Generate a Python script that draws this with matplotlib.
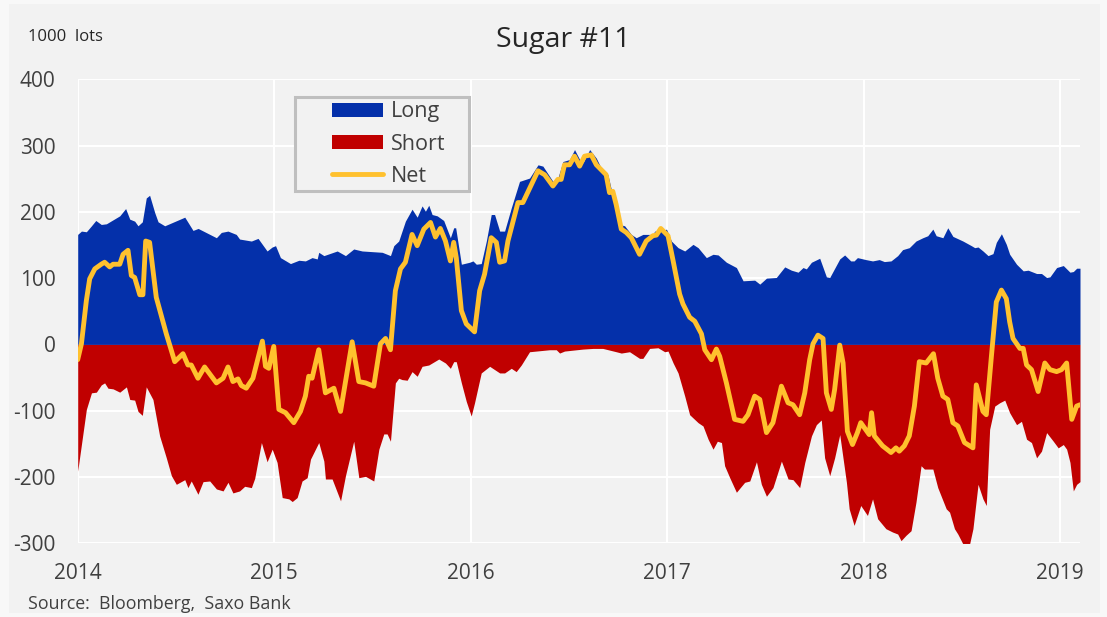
import matplotlib
matplotlib.use("Agg")
import matplotlib.pyplot as plt
from matplotlib.patches import Rectangle, Patch
from matplotlib.lines import Line2D

# ---------------- data (1000 lots), x in decimal years ----------------
long_x = [2014.000, 2014.019, 2014.044, 2014.070, 2014.092, 2014.120, 2014.146, 2014.214, 2014.244, 2014.265,
          2014.290, 2014.307, 2014.329, 2014.349, 2014.366, 2014.392, 2014.409, 2014.443, 2014.545, 2014.587,
          2014.613, 2014.706, 2014.731, 2014.765, 2014.807, 2014.824, 2014.884, 2014.918,
          2014.964, 2014.990, 2015.007, 2015.032, 2015.083, 2015.126, 2015.159, 2015.193, 2015.219, 2015.227,
          2015.253, 2015.321, 2015.363, 2015.405, 2015.448, 2015.499, 2015.550, 2015.592, 2015.609, 2015.634,
          2015.668, 2015.702, 2015.728, 2015.753, 2015.770, 2015.787, 2015.804, 2015.830, 2015.863, 2015.897,
          2015.914,
          2015.924, 2015.953, 2015.995, 2016.012, 2016.029, 2016.054, 2016.080, 2016.105, 2016.122, 2016.148,
          2016.173, 2016.207, 2016.249, 2016.300, 2016.343, 2016.368, 2016.419, 2016.444, 2016.470, 2016.504,
          2016.529, 2016.555, 2016.572, 2016.606, 2016.640, 2016.673, 2016.699, 2016.716, 2016.741, 2016.758,
          2016.784, 2016.818, 2016.843, 2016.877, 2016.928,
          2016.937, 2016.971, 2016.997, 2017.022, 2017.056, 2017.090, 2017.132, 2017.158, 2017.200, 2017.234,
          2017.260, 2017.302, 2017.353, 2017.387, 2017.446, 2017.472, 2017.506, 2017.556, 2017.599, 2017.633,
          2017.667, 2017.692, 2017.709, 2017.735, 2017.777, 2017.811, 2017.828, 2017.879, 2017.904,
          2017.935, 2017.952, 2017.969, 2018.012, 2018.046, 2018.080, 2018.106, 2018.140, 2018.174, 2018.199,
          2018.233, 2018.267, 2018.302, 2018.327, 2018.353, 2018.370, 2018.404, 2018.429, 2018.455, 2018.506,
          2018.549, 2018.566, 2018.583, 2018.608, 2018.634, 2018.659, 2018.676, 2018.702, 2018.727, 2018.744,
          2018.779, 2018.813, 2018.838, 2018.881, 2018.906, 2018.932, 2018.949, 2018.983, 2019.017, 2019.051,
          2019.068, 2019.085, 2019.102]
long_v = [166, 171, 170, 179, 187, 181, 182, 194, 205, 189,
          186, 179, 185, 221, 225, 199, 185, 179, 192, 172,
          175, 161, 169, 171, 166, 159, 156, 160,
          141, 147, 149, 131, 122, 127, 126, 131, 129, 139,
          134, 141, 134, 144, 141, 140, 139, 134, 149, 156,
          186, 204, 192, 209, 201, 210, 196, 194, 187, 161,
          176,
          176, 121, 124, 126, 121, 122, 156, 196, 196, 171,
          171, 206, 246, 251, 271, 269, 246, 251, 276, 279,
          294, 279, 274, 294, 281, 261, 256, 234, 221, 181,
          179, 166, 161, 166, 166,
          171, 171, 174, 156, 146, 141, 151, 146, 131, 136,
          135, 124, 116, 96, 97, 91, 100, 101, 117, 112,
          109, 116, 114, 124, 130, 102, 101, 129, 135,
          126, 126, 131, 128, 126, 128, 125, 126, 134, 143,
          146, 156, 161, 164, 174, 164, 161, 176, 163, 156,
          149, 146, 147, 141, 134, 137, 154, 167, 151, 136,
          121, 111, 112, 107, 107, 101, 102, 116, 119, 109,
          110, 115, 115]

short_x = [2014.000, 2014.044, 2014.070, 2014.095, 2014.120, 2014.137, 2014.154, 2014.180, 2014.214, 2014.248,
           2014.265, 2014.290, 2014.307, 2014.329, 2014.349, 2014.383, 2014.417, 2014.451, 2014.477, 2014.502,
           2014.545, 2014.561, 2014.578, 2014.612, 2014.638, 2014.672, 2014.706, 2014.740, 2014.765, 2014.790,
           2014.824, 2014.850, 2014.884, 2014.901, 2014.935,
           2014.964, 2014.990, 2015.015, 2015.041, 2015.075, 2015.092, 2015.117, 2015.142, 2015.168, 2015.185,
           2015.227, 2015.253, 2015.261, 2015.295, 2015.338, 2015.363, 2015.405, 2015.431, 2015.465, 2015.507,
           2015.533, 2015.558, 2015.575, 2015.592, 2015.617, 2015.634, 2015.651, 2015.677, 2015.702, 2015.728,
           2015.753, 2015.787, 2015.838, 2015.872, 2015.897, 2015.914,
           2015.927, 2015.953, 2015.978, 2016.003, 2016.020, 2016.054, 2016.097, 2016.148, 2016.173, 2016.207,
           2016.232, 2016.258, 2016.300, 2016.334, 2016.402, 2016.436, 2016.453, 2016.478, 2016.572, 2016.623,
           2016.673, 2016.741, 2016.767, 2016.809, 2016.860, 2016.877, 2016.911,
           2016.954, 2016.988, 2017.005, 2017.031, 2017.056, 2017.090, 2017.115, 2017.158, 2017.183, 2017.209,
           2017.234, 2017.256, 2017.277, 2017.293, 2017.319, 2017.353, 2017.395, 2017.421, 2017.455, 2017.480,
           2017.506, 2017.539, 2017.582, 2017.616, 2017.641, 2017.675, 2017.701, 2017.735, 2017.760, 2017.785,
           2017.802, 2017.828, 2017.853, 2017.879, 2017.913,
           2017.927, 2017.952, 2017.986, 2018.020, 2018.046, 2018.072, 2018.114, 2018.148, 2018.174, 2018.191,
           2018.216, 2018.242, 2018.267, 2018.293, 2018.310, 2018.353, 2018.378, 2018.421, 2018.438, 2018.463,
           2018.480, 2018.506, 2018.540, 2018.557, 2018.583, 2018.608, 2018.625, 2018.642, 2018.668, 2018.693,
           2018.719, 2018.744, 2018.779, 2018.804, 2018.830, 2018.855, 2018.881, 2018.906, 2018.932, 2018.966,
           2018.991, 2019.017, 2019.034, 2019.051, 2019.068, 2019.085, 2019.102]
short_v = [-191, -98, -73, -72, -61, -58, -66, -67, -72, -64,
           -83, -84, -101, -107, -64, -83, -138, -171, -198, -211,
           -204, -216, -206, -226, -207, -206, -218, -221, -208, -224,
           -221, -214, -216, -202, -148,
           -177, -158, -178, -231, -233, -237, -231, -206, -201, -173,
           -148, -176, -203, -203, -236, -198, -146, -201, -199, -206,
           -158, -135, -135, -146, -58, -51, -53, -54, -41, -48,
           -33, -31, -22, -28, -36, -26,
           -26, -58, -86, -108, -88, -43, -33, -43, -43, -36,
           -41, -31, -11, -10, -8, -8, -13, -10, -7, -6,
           -6, -11, -13, -11, -21, -21, -6,
           -5, -11, -10, -28, -43, -78, -106, -118, -123, -143,
           -158, -146, -148, -183, -201, -223, -208, -206, -177, -211,
           -229, -216, -176, -203, -204, -216, -178, -138, -121, -114,
           -171, -198, -171, -136, -208,
           -248, -273, -243, -258, -233, -263, -278, -283, -286, -296,
           -288, -281, -238, -183, -188, -188, -216, -248, -253, -278,
           -286, -301, -301, -278, -211, -233, -243, -128, -93, -88,
           -84, -103, -121, -116, -143, -148, -171, -161, -133, -146,
           -156, -151, -158, -178, -221, -211, -207]

net_x = [2014.000, 2014.019, 2014.044, 2014.061, 2014.087, 2014.120, 2014.137, 2014.163, 2014.180, 2014.214,
         2014.231, 2014.256, 2014.273, 2014.290, 2014.316, 2014.332, 2014.346, 2014.366, 2014.400, 2014.451,
         2014.494, 2014.536, 2014.561, 2014.578, 2014.612, 2014.646, 2014.706, 2014.740, 2014.765, 2014.790,
         2014.816, 2014.833, 2014.858, 2014.892, 2014.940,
         2014.956, 2014.973, 2014.998, 2015.024, 2015.058, 2015.100, 2015.134, 2015.159, 2015.176, 2015.193,
         2015.227, 2015.261, 2015.304, 2015.338, 2015.397, 2015.431, 2015.465, 2015.507, 2015.541, 2015.567,
         2015.592, 2015.617, 2015.643, 2015.668, 2015.702, 2015.728, 2015.762, 2015.796, 2015.821, 2015.846,
         2015.872, 2015.897, 2015.914,
         2015.927, 2015.953, 2015.978, 2016.020, 2016.046, 2016.071, 2016.105, 2016.131, 2016.148, 2016.173,
         2016.190, 2016.241, 2016.266, 2016.309, 2016.343, 2016.377, 2016.419, 2016.444, 2016.461, 2016.478,
         2016.504, 2016.529, 2016.555, 2016.580, 2016.614, 2016.640, 2016.690, 2016.707, 2016.724, 2016.741,
         2016.767, 2016.792, 2016.818, 2016.860, 2016.894, 2016.928,
         2016.946, 2016.968, 2017.005, 2017.031, 2017.064, 2017.081, 2017.115, 2017.141, 2017.175, 2017.192,
         2017.226, 2017.251, 2017.268, 2017.302, 2017.344, 2017.387, 2017.412, 2017.446, 2017.472, 2017.506,
         2017.539, 2017.582, 2017.616, 2017.641, 2017.675, 2017.701, 2017.726, 2017.743, 2017.768, 2017.794,
         2017.811, 2017.836, 2017.853, 2017.879, 2017.896,
         2017.918, 2017.944, 2017.969, 2017.986, 2018.029, 2018.041, 2018.055, 2018.097, 2018.140, 2018.165,
         2018.182, 2018.208, 2018.233, 2018.259, 2018.284, 2018.319, 2018.356, 2018.378, 2018.404, 2018.429,
         2018.455, 2018.480, 2018.514, 2018.557, 2018.574, 2018.608, 2018.625, 2018.651, 2018.676, 2018.702,
         2018.727, 2018.744, 2018.761, 2018.796, 2018.813, 2018.830, 2018.855, 2018.889, 2018.923, 2018.949,
         2018.983, 2019.008, 2019.034, 2019.060, 2019.085, 2019.102]
net_v = [-23, 1, 66, 99, 114, 121, 124, 117, 121, 121,
         136, 142, 104, 101, 75, 75, 156, 154, 71, 16,
         -26, -14, -31, -31, -51, -34, -58, -51, -34, -56,
         -52, -62, -66, -51, 5,
         -33, -36, -3, -98, -103, -118, -101, -78, -48, -51,
         -8, -73, -66, -101, 4, -56, -58, -63, 1, 9,
         -8, 81, 114, 124, 166, 149, 174, 184, 162, 175,
         156, 126, 154,
         131, 51, 31, 19, 81, 106, 161, 154, 124, 126,
         156, 214, 214, 241, 262, 256, 239, 249, 249, 271,
         271, 284, 269, 284, 286, 271, 256, 229, 231, 211,
         174, 169, 161, 136, 156, 164,
         165, 175, 164, 126, 76, 61, 41, 35, 16, -8,
         -23, -7, -18, -58, -113, -116, -106, -78, -83, -133,
         -118, -63, -88, -91, -106, -73, -23, 1, 14, 9,
         -73, -98, -68, -1, -28,
         -131, -151, -133, -118, -136, -103, -138, -153, -163, -156,
         -161, -153, -138, -93, -26, -28, -14, -51, -78, -83,
         -118, -123, -148, -156, -61, -101, -106, -18, 64, 82,
         69, 34, 9, -6, -6, -31, -38, -71, -28, -38,
         -41, -38, -28, -113, -93, -91]

years = [2014, 2015, 2016, 2017, 2018, 2019]
y_ticks = [400, 300, 200, 100, 0, -100, -200, -300]
legend_labels = ["Long", "Short", "Net"]

# ---------------- styling ----------------
BG = "#F2F2F2"
BLUE = "#0430AA"
RED = "#C00000"
YELLOW = "#FFC12E"
TXT = "#404040"
FONT = ["Open Sans", "DejaVu Sans"]

plt.rcParams["font.family"] = FONT

W, H = 1107, 617
fig = plt.figure(figsize=(W / 100, H / 100), dpi=100)
fig.patch.set_facecolor("#F8F8F8")
fig.patches.append(Rectangle((9 / W, 4 / H), 1091 / W, 609 / H,
                             transform=fig.transFigure, facecolor=BG,
                             edgecolor="none", zorder=-10))

AX_L, AX_R, AX_T, AX_B = 77.7, 1080.0, 79.3, 543.3
ax = fig.add_axes([AX_L / W, 1 - AX_B / H, (AX_R - AX_L) / W, (AX_B - AX_T) / H])
ax.set_facecolor(BG)


def ax_x(px):
    return (px - AX_L) / (AX_R - AX_L)


def ax_y(py):
    return (AX_B - py) / (AX_B - AX_T)


ax.fill_between(long_x, 0, long_v, color=BLUE, linewidth=0, zorder=2)
ax.fill_between(short_x, 0, short_v, color=RED, linewidth=0, zorder=3)
ax.plot(net_x, net_v, color=YELLOW, linewidth=3.5, solid_joinstyle="round",
        solid_capstyle="round", zorder=4)

ax.set_xlim(2014.0, 2019.102)
ax.set_ylim(-300, 400)
ax.set_xticks(years)
ax.set_xticklabels([str(y) for y in years])
ax.set_yticks(y_ticks)
ax.set_yticklabels([str(v) for v in y_ticks])

ax.grid(True, color="white", linewidth=1.5, zorder=0)
ax.set_axisbelow(True)
for s in ax.spines.values():
    s.set_visible(False)
ax.tick_params(axis="both", length=0, labelsize=15, colors=TXT)
ax.tick_params(axis="y", pad=16)
ax.tick_params(axis="x", pad=14)

# legend frame drawn separately (asymmetric padding as in the reference)
ax.add_patch(Rectangle((ax_x(294.5), ax_y(190.5)), ax_x(468.5) - ax_x(294.5),
                       ax_y(96.5) - ax_y(190.5), transform=ax.transAxes,
                       facecolor=BG, edgecolor="#BFBFBF", linewidth=2.2, zorder=5))

handles = [Patch(facecolor=BLUE, edgecolor="none"),
           Patch(facecolor=RED, edgecolor="none"),
           Line2D([0], [0], color=YELLOW, linewidth=3.5, solid_capstyle="round")]
leg = ax.legend(handles, legend_labels, loc="upper left",
                bbox_to_anchor=(ax_x(332), ax_y(101.5)), fontsize=15.5, frameon=False,
                handlelength=2.35, handleheight=0.66, handletextpad=0.38,
                labelspacing=0.52, borderpad=0, borderaxespad=0)
leg.set_zorder(6)
for t in leg.get_texts():
    t.set_color(TXT)

fig.text(563 / W, 1 - 40 / H, "Sugar #11", ha="center", va="center",
         fontsize=20.5, color="#262626")
fig.text(28 / W, 1 - 37 / H, "1000  lots", ha="left", va="center",
         fontsize=12, color="#262626")
fig.text(28 / W, 1 - 604 / H, "Source:  Bloomberg,  Saxo Bank", ha="left",
         va="center", fontsize=12.8, color=TXT)

fig.savefig("out.png", dpi=100, facecolor=fig.get_facecolor())
